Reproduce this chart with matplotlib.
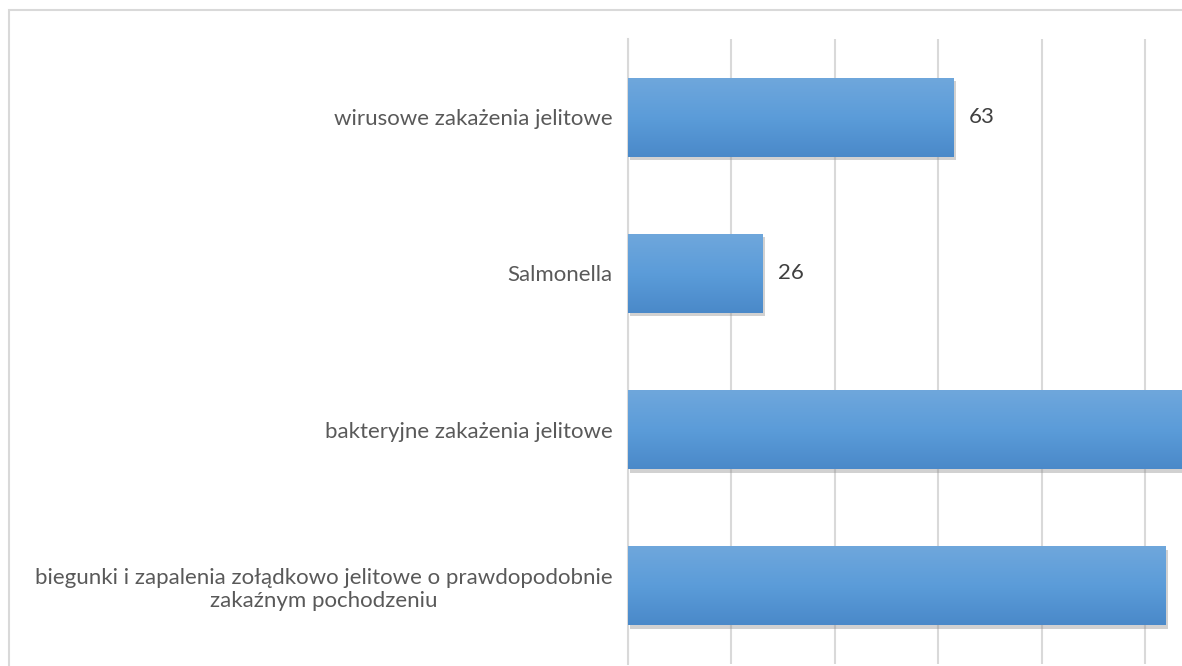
import numpy as np
import matplotlib.pyplot as plt
import matplotlib.patheffects as pe
from matplotlib.patches import Rectangle
from matplotlib.colors import LinearSegmentedColormap

# data (top to bottom as shown)
categories = ['wirusowe zakażenia jelitowe',
              'Salmonella',
              'bakteryjne zakażenia jelitowe',
              'biegunki i zapalenia zołądkowo jelitowe o prawdopodobnie\nzakaźnym pochodzeniu']
values = [63, 26, 112, 104]

plt.rcParams['font.family'] = ['Lato', 'DejaVu Sans']

W, H = 1182, 666
fig = plt.figure(figsize=(W / 100, H / 100), dpi=100)

# chart border (cropped on right/bottom in the original)
fig.patches.append(Rectangle((9 / W, -0.1), 1.2, 1 - 10 / H + 0.1, transform=fig.transFigure,
                             fill=False, edgecolor='#d9d9d9', linewidth=1.5))

px_per_unit = 5.17
xmax = 120
left = 628 / W
right = (628 + xmax * px_per_unit) / W
ax = fig.add_axes([left, 2 / H, right - left, (664 - 39) / H])

y = np.arange(len(categories))[::-1]
bars = ax.barh(y, values, height=0.505, color='#5b9bd5', zorder=2,
               path_effects=[pe.SimplePatchShadow(offset=(1.5, -2.5), shadow_rgbFace='#8c8c8c', alpha=0.4),
                             pe.Normal()])

# vertical gradient over each bar (light on top)
grad = np.linspace(0, 1, 256).reshape(-1, 1)
cmap = LinearSegmentedColormap.from_list('g', ['#6fa7dc', '#5b9cd9', '#4a89c9'])
for b in bars:
    x0, y0, w, h = b.get_x(), b.get_y(), b.get_width(), b.get_height()
    im = ax.imshow(grad, cmap=cmap, aspect='auto', extent=[x0, x0 + w, y0, y0 + h],
                   origin='upper', zorder=3, interpolation='bilinear')
    im.set_clip_path(b)

# data labels (only the ones that fall inside the visible area)
visible = (W - 628) / px_per_unit
for yi, v in zip(y, values):
    if v + 8 < visible:
        ax.text(v + 3, yi, str(v), va='center', ha='left', fontsize=16, color='#404040')

ax.set_xlim(0, xmax)
ax.set_ylim(-0.5, len(categories) - 0.5)
ax.set_xticks(np.arange(0, xmax + 1, 20))
ax.xaxis.grid(True, color='#d9d9d9', linewidth=1.5, zorder=0)
ax.set_axisbelow(True)
ax.tick_params(axis='x', length=0, labelbottom=False)
ax.tick_params(axis='y', length=0, pad=11)
ax.set_yticks(y)
ax.set_yticklabels(categories, fontsize=16, color='#595959', multialignment='center')
for s in ['top', 'right', 'bottom']:
    ax.spines[s].set_visible(False)
ax.spines['left'].set_color('#d9d9d9')
ax.spines['left'].set_linewidth(1.5)

fig.savefig('out.png', dpi=100)
